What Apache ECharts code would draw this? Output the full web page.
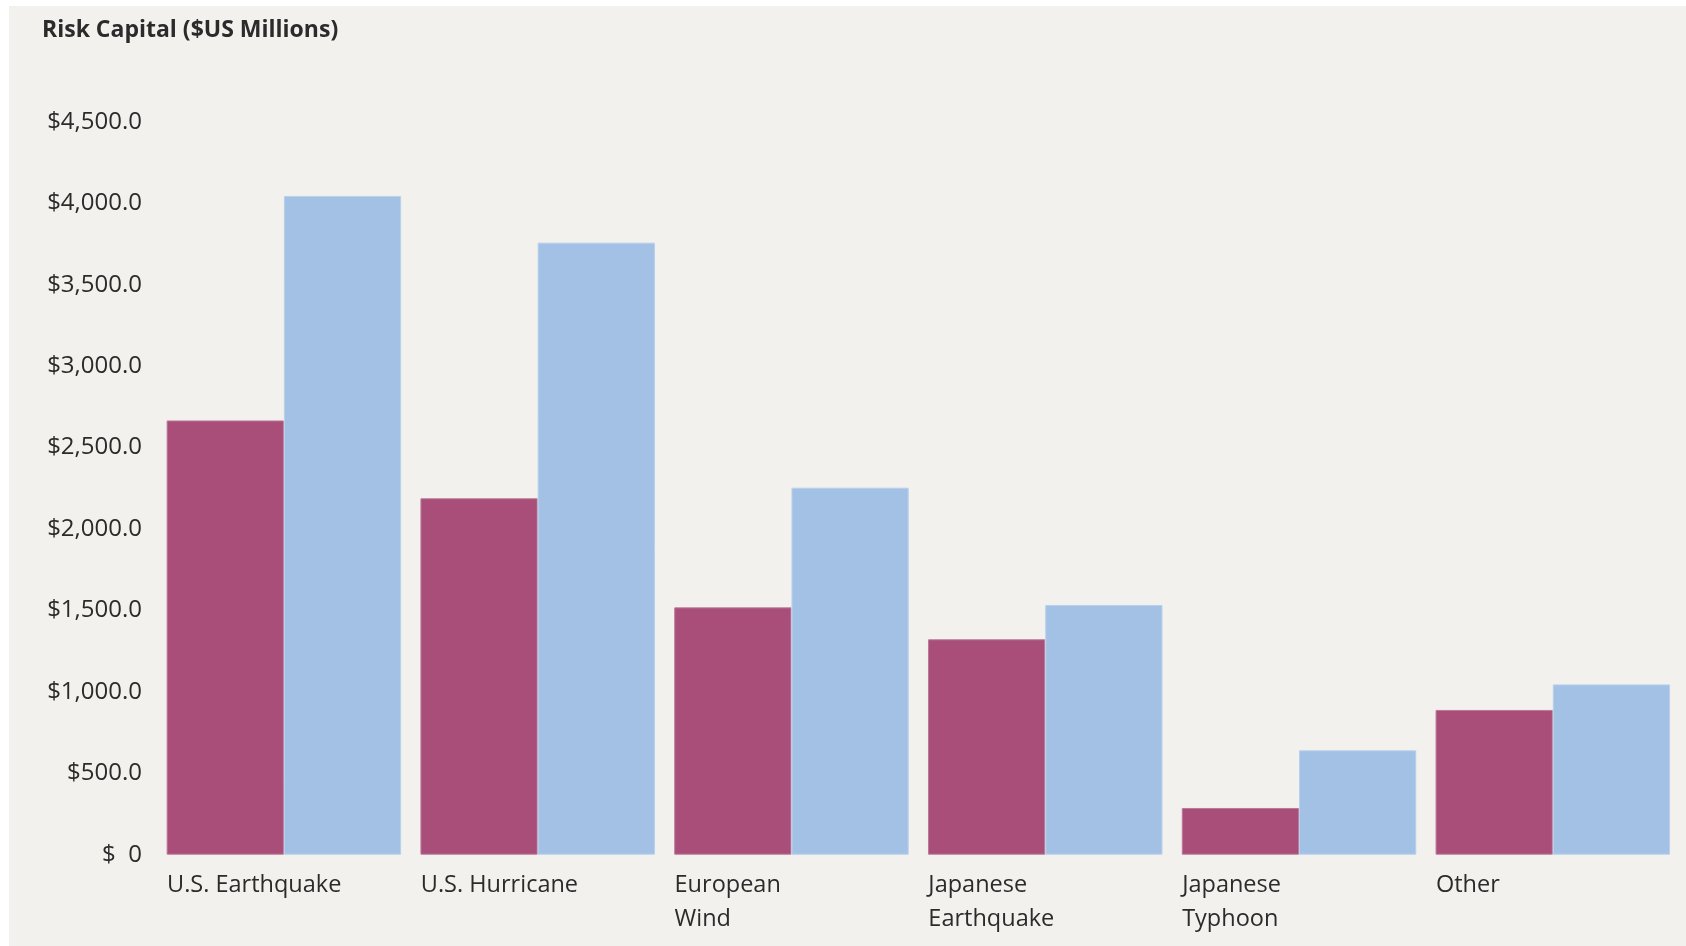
<!DOCTYPE html>
<html>
<head>
<meta charset="utf-8">
<script src="https://cdn.jsdelivr.net/npm/echarts@6/dist/echarts.min.js"></script>
<style>
  html, body { margin: 0; padding: 0; background: #ffffff; }
  #chart { width: 1686px; height: 946px; }
</style>
</head>
<body>
<div id="chart"></div>
<script>
const categories = ['U.S. Earthquake', 'U.S. Hurricane', 'European\nWind', 'Japanese\nEarthquake', 'Japanese\nTyphoon', 'Other'];
const seriesA = [2667, 2189, 1519, 1323, 287, 889];
const seriesB = [4046, 3759, 2254, 1534, 641, 1046];
const yTickValues = [0, 500, 1000, 1500, 2000, 2500, 3000, 3500, 4000, 4500];
const yTickLabels = ['$  0', '$500.0', '$1,000.0', '$1,500.0', '$2,000.0', '$2,500.0', '$3,000.0', '$3,500.0', '$4,000.0', '$4,500.0'];
const titleText = 'Risk Capital ($US Millions)';

const chart = echarts.init(document.getElementById('chart'), null, { renderer: 'canvas' });
const FONT = '"Open Sans", "Noto Sans", sans-serif';

chart.setOption({
  backgroundColor: '#ffffff',
  animation: false,
  graphic: [{
    type: 'rect',
    z: -10,
    silent: true,
    shape: { x: 9, y: 6, width: 1686 - 9, height: 946 - 6 },
    style: { fill: '#F2F1ED' }
  }],
  title: {
    text: titleText,
    left: 37,
    top: 14,
    textStyle: { fontFamily: FONT, fontWeight: 'bold', fontSize: 23, color: '#2b2b2b' }
  },
  grid: { left: 157, right: 6.3, top: 122, bottom: 91.3, containLabel: false, outerBoundsMode: 'none' },
  xAxis: [{
    type: 'category',
    data: categories,
    boundaryGap: true,
    axisLine: { show: false },
    axisTick: { show: false },
    axisLabel: { show: false },
    splitLine: { show: false }
  }, {
    type: 'category',
    data: categories.concat(['']),
    boundaryGap: false,
    position: 'bottom',
    axisLine: { show: false },
    axisTick: { show: false },
    splitLine: { show: false },
    axisLabel: {
      show: true,
      interval: 0,
      align: 'left',
      verticalAlign: 'top',
      margin: 14,
      padding: [0, 0, 0, 10],
      lineHeight: 34,
      fontFamily: FONT,
      fontSize: 23.5,
      color: '#2b2b2b',
      hideOverlap: false
    }
  }],
  yAxis: {
    type: 'value',
    min: 0,
    max: 4500,
    interval: 500,
    axisLine: { show: false },
    axisTick: { show: false },
    splitLine: { show: false },
    axisLabel: {
      margin: 15,
      fontFamily: FONT,
      fontSize: 24,
      color: '#2b2b2b',
      formatter: function (v) {
        const i = yTickValues.indexOf(v);
        return i >= 0 ? yTickLabels[i] : '';
      }
    }
  },
  series: [{
    type: 'bar',
    xAxisIndex: 0,
    data: seriesA,
    barGap: '0%',
    barCategoryGap: '7.6%',
    itemStyle: { color: '#A84E78', borderColor: '#BC7A9A', borderWidth: 1 }
  }, {
    type: 'bar',
    xAxisIndex: 0,
    data: seriesB,
    barGap: '0%',
    barCategoryGap: '7.6%',
    itemStyle: { color: '#A3C1E5', borderColor: '#B9D0EC', borderWidth: 1 }
  }]
});
</script>
</body>
</html>
